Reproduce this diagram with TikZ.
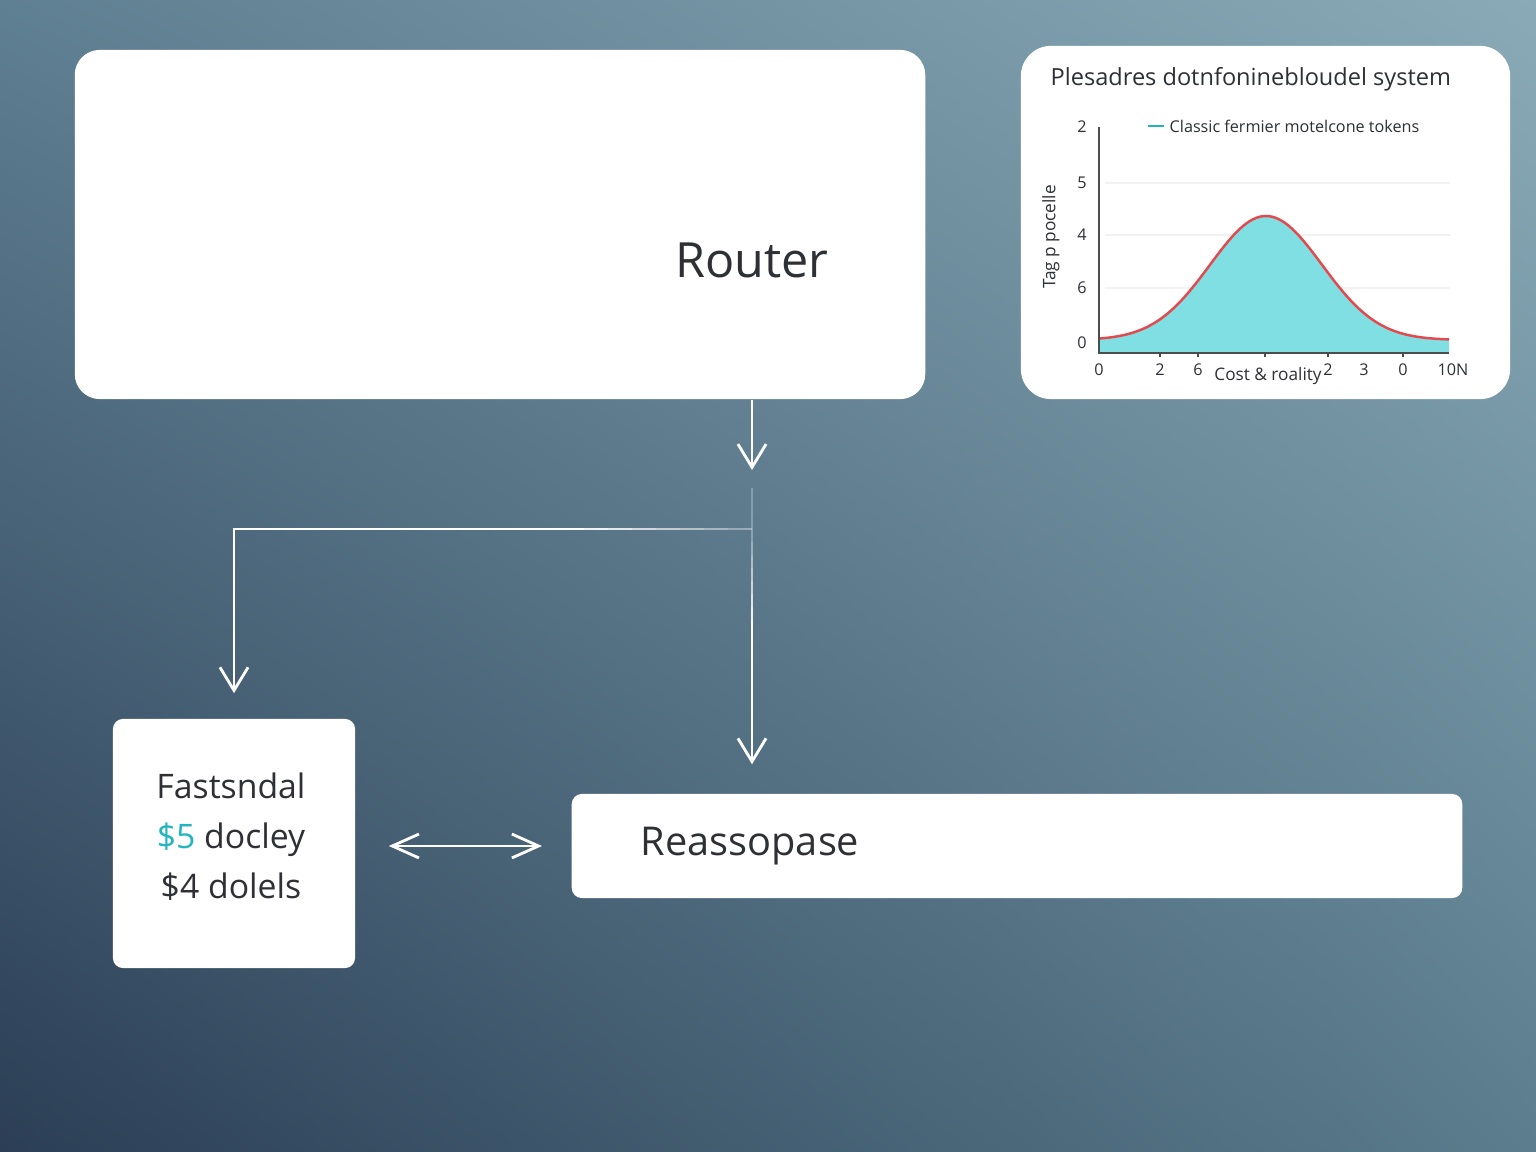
\documentclass[tikz,border=0pt]{standalone}
\usepackage{fontspec}
\setmainfont{Open Sans}
\usetikzlibrary{arrows.meta,shadings}

\definecolor{bgUL}{HTML}{5F7F92}
\definecolor{bgUR}{HTML}{8AAAB7}
\definecolor{bgLL}{HTML}{2B3E55}
\definecolor{bgLR}{HTML}{5B7D8E}
\definecolor{inkdark}{HTML}{2E3036}
\definecolor{tealink}{HTML}{22B4C0}
\definecolor{curvered}{HTML}{E5484D}
\definecolor{curveteal}{HTML}{80DFE2}

\begin{document}
\begin{tikzpicture}[
	x=0.01cm, y=-0.01cm,
	panel/.style={
		rectangle,
		fill=white,
		draw=none,
		inner sep=0pt,
		rounded corners=0.1cm
	},
	link/.style={
		draw=white,
		line width=0.8pt,
		-{Straight Barb[length=6.6pt,width=8pt]}
	},
	fadelink/.style={
		draw=white,
		line width=0.8pt
	},
	ticklabel/.style={
		text=inkdark,
		font=\fontsize{4.6}{5}\selectfont,
		inner sep=0pt
	},
	axisline/.style={
		draw=black!70,
		line width=0.35pt
	},
	gridline/.style={
		draw=black!5,
		line width=0.3pt
	},
]

%% Background %%
\useasboundingbox (0,0) rectangle (1536,1152);
\shade[upper left=bgUL, upper right=bgUR, lower left=bgLL, lower right=bgLR] (0,0) rectangle (1536,1152);

%% Boxes %%
\node[panel, rounded corners=0.25cm, minimum width=8.5cm, minimum height=3.49cm] (router) at (500,224.5) {};
\node[text=inkdark, font=\fontsize{13.8}{16}\selectfont] (routertext) at (752,260) {Router};

\node[panel, rounded corners=0.3cm, minimum width=4.89cm, minimum height=3.53cm] (chart) at (1265.5,222.5) {};

\node[panel, minimum width=2.42cm, minimum height=2.49cm, text=inkdark] (fast) at (234,843.5) {};
\node[align=center, text=inkdark, font=\fontsize{9.6}{14.2}\selectfont] (fasttext) at (231,837)
	{Fastsndal\\\textcolor{tealink}{\$5} docley\\\$4 dolels};

\node[panel, minimum width=8.9cm, minimum height=1.04cm] (reas) at (1017,846) {};
\node[anchor=west, inner sep=0pt, text=inkdark, font=\fontsize{11.3}{14}\selectfont] (reastext) at (640,846) {Reassopase};

%% Connections %%
\coordinate (split) at (752,529);
\coordinate (tipA) at (752,470);
\coordinate (fadeL) at (560,529);

\draw[link] (router.south -| split) -- (tipA);

% fading parts %
\draw[fadelink, opacity=0.25] (752,488) -- (split);
\foreach \k in {0,...,7}
	\draw[fadelink, opacity=1-0.09*\k] (560+24*\k,529) -- (584+24*\k,529);
\foreach \k in {0,...,6}
	\draw[fadelink, opacity=0.3+0.1*\k] (752,529+13*\k) -- (752,542+13*\k);

\draw[link] (fadeL) -| ([yshift=0.25cm]fast.north);
\draw[link] (752,620) -- ([yshift=0.29cm]split |- reas.north);
\draw[link, {Straight Barb[length=7.6pt,width=6.8pt]}-{Straight Barb[length=7.6pt,width=6.8pt]}]
	([xshift=0.33cm]fast.east |- reas.west) -- ([xshift=-0.29cm]reas.west);

%% Chart %%
\node[anchor=west, inner sep=0pt, text=inkdark, font=\fontsize{6.7}{9}\selectfont] (charttitle) at (1050,79) {Plesadres dotnfoninebloudel system};

% grid %
\foreach \gy in {183,235,288}
	\draw[gridline] (1105,\gy) -- (1450,\gy);

% curve %
\fill[curveteal] (1099,353) -- plot[domain=1099:1449, samples=90] (\x,{340-124*exp(-0.5*((\x-1266)/56)^2)}) -- (1449,353) -- cycle;
\draw[curvered, line width=0.7pt] plot[domain=1099:1449, samples=90] (\x,{340-124*exp(-0.5*((\x-1266)/56)^2)});

% axes %
\draw[axisline] (1099,127) -- (1099,353) -- (1449,353);
\foreach \tx in {1160,1198,1265,1328,1403}
	\draw[axisline] (\tx,353) -- (\tx,357);

\foreach \ty/\lab in {127/2,183/5,235/4,288/6,343/0}
	\node[ticklabel] (ytick\lab) at (1082,\ty) {\lab};
\foreach \tx/\lab [count=\n] in {1099/0,1160/2,1198/6,1328/2,1364/3,1403/0,1453/10N}
	\node[ticklabel] (xtick\n) at (\tx,370) {\lab};

\node[ticklabel, font=\fontsize{4.9}{6}\selectfont] (xlabel) at (1268,376) {Cost \& roality};
\node[ticklabel, font=\fontsize{4.9}{6}\selectfont, rotate=90] (ylabel) at (1051,237) {Tag p pocelle};

% legend %
\draw[tealink, line width=0.5pt] (1148,126) -- (1164,126);
\node[ticklabel, anchor=west] (legend) at (1169,126) {Classic fermier motelcone tokens};

\end{tikzpicture}
\end{document}
